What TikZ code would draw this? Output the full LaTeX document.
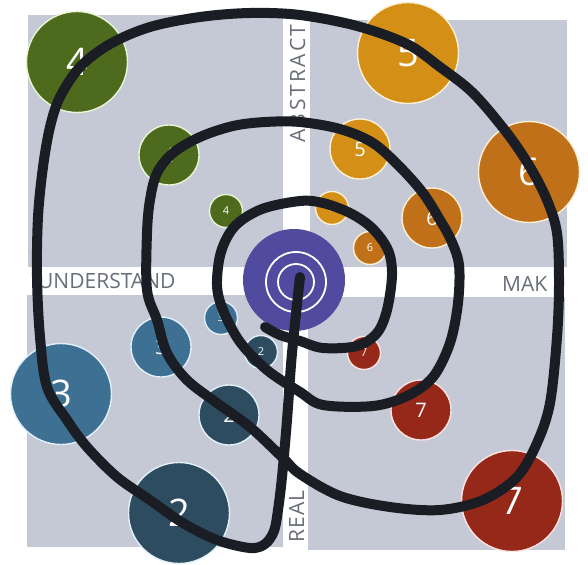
\documentclass[tikz,border=0pt]{standalone}
\usepackage{fontspec}
\setmainfont{Open Sans}
\definecolor{qgray}{RGB}{197,201,213}
\definecolor{labgray}{RGB}{105,110,120}
\definecolor{cgreen}{RGB}{78,106,28}
\definecolor{ogreen}{RGB}{232,245,215}
\definecolor{corange}{RGB}{212,144,22}
\definecolor{cdorange}{RGB}{192,112,24}
\definecolor{oorange}{RGB}{252,240,215}
\definecolor{cblue}{RGB}{62,112,148}
\definecolor{cdblue}{RGB}{46,76,96}
\definecolor{oblue}{RGB}{225,240,250}
\definecolor{cred}{RGB}{150,40,26}
\definecolor{ored}{RGB}{252,228,225}
\definecolor{cpurple}{RGB}{80,75,158}
\definecolor{spiralc}{RGB}{26,30,36}
\begin{document}
\begin{tikzpicture}[x=1pt,y=-1pt,
  lab/.style={text=labgray, font=\fontsize{21}{21}\selectfont, inner sep=0},
  bub/.style={circle, inner sep=0, line width=1.4pt, text=white},
  bigb/.style={bub, minimum size=101pt, font=\fontsize{38}{38}\selectfont},
  midb/.style={bub, minimum size=60pt, font=\fontsize{20}{20}\selectfont},
  smlb/.style={bub, minimum size=33pt, font=\fontsize{11}{11}\selectfont},
  spiral/.style={line width=10pt, draw=spiralc, line cap=round, line join=round}]
\useasboundingbox (0,0) rectangle (588,564);
\fill[white] (0,0) rectangle (588,564);
% quadrants
\fill[qgray] (28,15) rectangle (283,267);
\fill[qgray] (310,20) rectangle (567,267);
\fill[qgray] (27,295) rectangle (283,547);
\fill[qgray] (308,297) rectangle (565,550);
% axis labels
\node[lab, anchor=base west] (und) at (38,288) {UNDERSTAND};
\node[lab, anchor=base west] (mak) at (502,291) {MAK};
\node[lab, anchor=base west, rotate=90] (abs) at (305,143) {\addfontfeatures{LetterSpace=12}ABSTRACT};
\node[lab, anchor=base west, rotate=90] (real) at (304,543) {\addfontfeatures{LetterSpace=6}REAL};
% bubbles
\node[bigb, fill=cgreen, draw=ogreen] (g4a) at (77,62) {4};
\node[midb, fill=cgreen, draw=ogreen] (g4b) at (169,155) {4};
\node[smlb, fill=cgreen, draw=ogreen] (g4c) at (226,211) {4};
\node[bigb, fill=corange, draw=oorange] (o5a) at (408,53) {5};
\node[midb, fill=corange, draw=oorange] (o5b) at (360,149) {5};
\node[smlb, fill=corange, draw=oorange] (o5c) at (332,208) {5};
\node[bigb, fill=cdorange, draw=oorange] (o6a) at (529,172) {6};
\node[midb, fill=cdorange, draw=oorange] (o6b) at (432,218) {6};
\node[smlb, fill=cdorange, draw=oorange] (o6c) at (370,248) {6};
\node[bigb, fill=cblue, draw=oblue] (b3a) at (61,394) {3};
\node[midb, fill=cblue, draw=oblue] (b3b) at (161,347) {3};
\node[smlb, fill=cblue, draw=oblue] (b3c) at (221,318) {3};
\node[bigb, fill=cdblue, draw=oblue] (b2a) at (179,513) {2};
\node[midb, fill=cdblue, draw=oblue] (b2b) at (229,415) {2};
\node[smlb, fill=cdblue, draw=oblue] (b2c) at (261,352) {2};
\node[smlb, fill=cred, draw=ored] (r7c) at (364,353) {7};
\node[midb, fill=cred, draw=ored] (r7b) at (421,410) {7};
\node[bigb, fill=cred, draw=ored] (r7a) at (512,501) {7};
% centre
\node[circle, fill=cpurple, minimum size=102pt, inner sep=0] (ctr) at (294,280) {};
\draw[white, line width=1.8pt] (296,282) circle[radius=30pt];
\draw[white, line width=1.8pt] (296,282) circle[radius=18pt];
% spiral
\draw[spiral] plot[smooth, tension=0.55] coordinates {
(265,327) (280,335) (300,341) (323,348) (357,346) (377,333) (387,310) (392,275)
(388,250) (372,228) (350,213) (323,203) (300,201) (262,209) (235,226) (221,252)
(217,285) (223,310) (240,342) (267,370) (300,392) (323,405) (373,406) (407,396)
(433,377) (450,343) (458,303) (459,265) (451,240) (440,220) (423,193) (400,167)
(373,143) (340,129) (300,122) (265,122) (233,126) (200,137) (173,153) (157,173) (150,200)
(147,233) (147,290) (157,320) (167,353) (187,380) (217,403) (250,427) (283,458)
(300,474) (340,496) (390,507) (440,510) (483,500) (517,477) (537,443) (550,403)
(557,337) (559,283) (557,233) (547,200) (530,167) (507,133) (473,93) (440,67)
(407,44) (357,26) (300,15) (250,13) (200,17) (150,27) (110,44) (80,67) (60,97) (50,127)
(43,167) (38,217) (37,277) (40,337) (47,387) (67,420) (87,447) (117,477) (150,500)
(183,523) (217,540) (250,548) (265,544) (274,531) (278,510) (282,477) (287,420)
(292,353) (300,277)};
\end{tikzpicture}
\end{document}
